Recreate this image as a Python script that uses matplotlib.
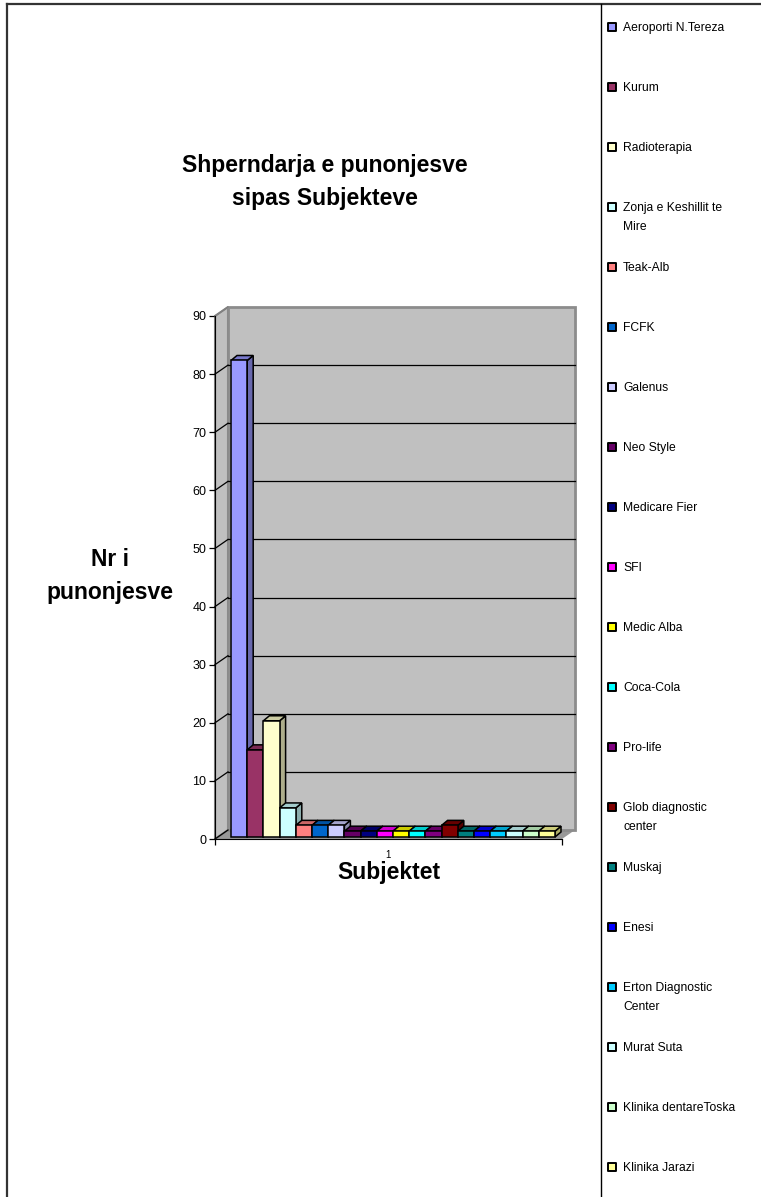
import matplotlib
matplotlib.use('Agg')
import matplotlib.pyplot as plt
from matplotlib.patches import Polygon
from matplotlib.lines import Line2D
import numpy as np

plt.rcParams['font.family'] = ['Liberation Sans', 'DejaVu Sans']

# te dhenat
subjektet = ['Aeroporti N.Tereza', 'Kurum', 'Radioterapia', 'Zonja e Keshillit te\nMire',
             'Teak-Alb', 'FCFK', 'Galenus', 'Neo Style', 'Medicare Fier', 'SFI',
             'Medic Alba', 'Coca-Cola', 'Pro-life', 'Glob diagnostic\ncenter', 'Muskaj',
             'Enesi', 'Erton Diagnostic\nCenter', 'Murat Suta', 'Klinika dentareToska',
             'Klinika Jarazi']
punonjes = [82, 15, 20, 5, 2, 2, 2, 1, 1, 1, 1, 1, 1, 2, 1, 1, 1, 1, 1, 1]
ngjyrat = ['#9999FF', '#993366', '#FFFFCC', '#CCFFFF', '#FF8080', '#0066CC', '#CCCCFF',
           '#660066', '#000080', '#FF00FF', '#FFFF00', '#00FFFF', '#800080', '#800000',
           '#008080', '#0000FF', '#00CCFF', '#CCFFFF', '#CCFFCC', '#FFFF99']
kategoria = ['1']
y_ticks = list(range(0, 100, 10))

W, H = 761, 1197
fig = plt.figure(figsize=(W / 100, H / 100), dpi=100)


def fx(px):
    return px / W


def fy(py):
    return 1 - py / H


ax = fig.add_axes([fx(215), fy(839), fx(562) - fx(215), fy(316) - fy(839)])
ax.set_xlim(-0.5, 0.5)
ax.set_ylim(0, 90)

# sa njesi te dhenash ka nje piksel
ux = 1.0 / ax.bbox.width
uy = 90.0 / ax.bbox.height

# thellesia e murit dhe e shtyllave (ne piksel)
wdx, wdy = 13 * ux, 9 * uy
bfx, bfy = 3 * ux, 2 * uy
bdx, bdy = 6 * ux, 5 * uy


def shade(c, f):
    r, g, b = matplotlib.colors.to_rgb(c)
    return (r * f, g * f, b * f)


# dyshemeja dhe muret
ax.add_patch(Polygon([(-0.5, 0), (0.5, 0), (0.5 + wdx, wdy), (-0.5 + wdx, wdy)],
                     closed=True, fc='#999999', ec='none', zorder=1, clip_on=False))
ax.add_patch(Polygon([(-0.5, 0), (-0.5, 90), (-0.5 + wdx, 90 + wdy), (-0.5 + wdx, wdy)],
                     closed=True, fc='#C0C0C0', ec='#808080', lw=1.5, zorder=1, clip_on=False))
ax.add_patch(Polygon([(-0.5 + wdx, wdy), (0.5 + wdx, wdy), (0.5 + wdx, 90 + wdy),
                      (-0.5 + wdx, 90 + wdy)],
                     closed=True, fc='#C0C0C0', ec='#8C8C8C', lw=2, zorder=1, clip_on=False))

# vijat e rrjetit
for t in y_ticks:
    ax.plot([-0.5, -0.5 + wdx], [t, t + wdy], color='black' if t < 90 else '#808080',
            lw=0.9, zorder=2, clip_on=False)
    if 0 < t < 90:
        ax.plot([-0.5 + wdx, 0.5 + wdx], [t + wdy, t + wdy], color='black', lw=0.9,
                zorder=2, clip_on=False)

# shtyllat
n = len(punonjes)
w = 16.2 * ux
x0 = -0.5 + 13 * ux + np.arange(n) * w + bfx
bars = ax.bar(x0, punonjes, width=w, bottom=bfy, align='edge', color=ngjyrat,
              edgecolor='black', linewidth=1.1, clip_on=False)
for i, (rect, v, c) in enumerate(zip(bars, punonjes, ngjyrat)):
    z = 3 + i
    rect.set_zorder(z + 0.2)
    xl, xr, yt = x0[i], x0[i] + w, v + bfy
    ax.add_patch(Polygon([(xr, bfy), (xr + bdx, bfy + bdy), (xr + bdx, yt + bdy), (xr, yt)],
                         closed=True, fc=shade(c, 0.68), ec='black', lw=1.1, zorder=z,
                         clip_on=False))
    ax.add_patch(Polygon([(xl, yt), (xr, yt), (xr + bdx, yt + bdy), (xl + bdx, yt + bdy)],
                         closed=True, fc=shade(c, 0.8), ec='black', lw=1.1, zorder=z + 0.1,
                         clip_on=False))

# boshtet
for s in ['top', 'right']:
    ax.spines[s].set_visible(False)
ax.spines['left'].set_color('black')
ax.spines['bottom'].set_color('black')
ax.spines['left'].set_zorder(30)
ax.spines['bottom'].set_zorder(30)
ax.set_yticks(y_ticks)
ax.tick_params(axis='y', direction='out', length=4.3, width=0.9, pad=2, labelsize=9)
ax.set_xticks([-0.5, 0.5])
ax.set_xticklabels(['', ''])
ax.tick_params(axis='x', direction='out', length=4.3, width=0.9)
ax.set_xticks([0], minor=True)
ax.set_xticklabels(kategoria, minor=True, fontsize=7)
ax.tick_params(axis='x', which='minor', length=0, width=0, pad=8)
ax.set_facecolor('none')

# titujt
fig.text(fx(325), fy(182), 'Shperndarja e punonjesve\nsipas Subjekteve', ha='center',
         va='center', fontsize=16.5, fontweight='bold', linespacing=1.6)
fig.text(fx(110), fy(576), 'Nr i\npunonjesve', ha='center', va='center', fontsize=16.5,
         fontweight='bold', linespacing=1.5)
fig.text(fx(389), fy(873), 'Subjektet', ha='center', va='center', fontsize=16.5,
         fontweight='bold')

# legjenda
ax_leg = fig.add_axes([fx(601), 0, 1 - fx(601), 1])
ax_leg.set_xlim(0, W - 601)
ax_leg.set_ylim((H - 27) / 60, -27 / 60)
ax_leg.axis('off')
ax_leg.scatter(np.full(n, 11), np.arange(n), marker='s', s=32, c=ngjyrat,
               edgecolors='black', linewidths=1.4)
for i, lab in enumerate(subjektet):
    ax_leg.text(22, i - 5 / 60, lab, va='top', ha='left', fontsize=8.7, linespacing=1.75)

# korniza
fig.add_artist(Line2D([fx(7), 1], [fy(4), fy(4)], color='#333333', lw=1.6))
fig.add_artist(Line2D([fx(7), fx(7)], [fy(4), 0], color='#333333', lw=1.6))
fig.add_artist(Line2D([fx(601), fx(601)], [fy(4), 0], color='black', lw=1.0))

fig.savefig('out.png', dpi=100)
